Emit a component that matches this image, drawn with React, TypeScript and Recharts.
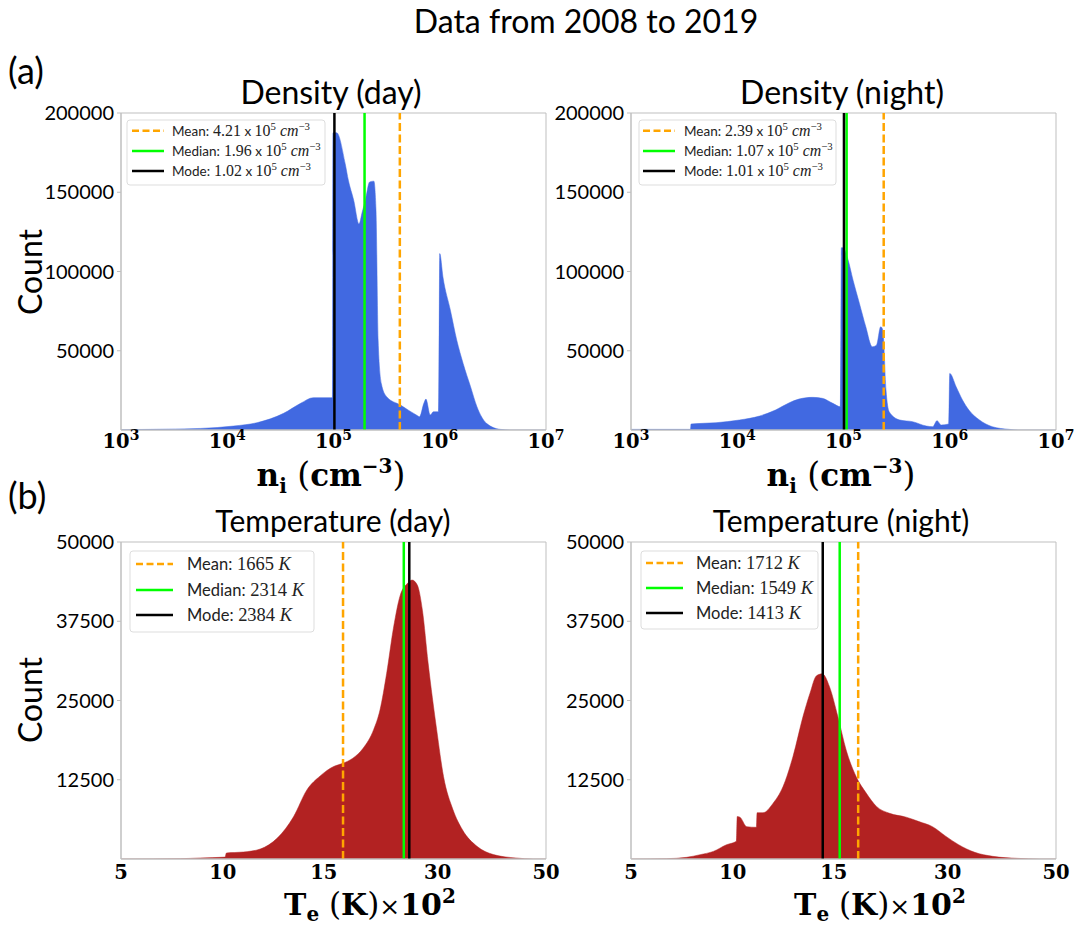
import React from "react";
import { ComposedChart, Area, XAxis, YAxis, ReferenceLine, ReferenceArea } from "recharts";

// ---------- DATA ----------
const densityDayN = [1000, 1905, 5623, 11482, 19055, 33884, 48978, 64565, 93325, 97700, 98855, 107152, 128825, 138038, 154882, 173780, 186209, 199526, 218776, 239883, 251189, 263027, 281838, 316228, 426580, 602560, 645654, 707946, 741310, 812831, 870964, 977237, 1000000, 1071519, 1258925, 1445440, 1659587, 1949845, 2238721, 2754229, 3715352, 4677351, 10000000];
const densityDayCount = [200, 400, 1000, 2500, 4600, 10500, 16800, 20400, 20400, 20400, 187500, 187500, 168000, 157500, 145000, 130000, 137500, 145000, 156500, 157000, 138600, 56700, 29400, 21000, 15750, 9450, 8400, 16800, 19500, 9450, 11500, 11500, 111300, 96600, 75600, 56700, 42000, 27300, 14700, 4200, 400, 0, 0];

const densityNightN = [1000, 3631, 3673, 6310, 10471, 16218, 22909, 30903, 38019, 51286, 63096, 79433, 93325, 94406, 95499, 98855, 109648, 123027, 141254, 162181, 186209, 204174, 223872, 234423, 251189, 269153, 338844, 446684, 602560, 691831, 758578, 831764, 977237, 1000000, 1148154, 1318257, 1513561, 1905461, 2511886, 3630781, 4466836, 10000000];
const densityNightCount = [400, 400, 3800, 4600, 6300, 8800, 12600, 17200, 19500, 20600, 20000, 16800, 14700, 63400, 115000, 115000, 108000, 94500, 79800, 65100, 52500, 53500, 65100, 63000, 25200, 11500, 6300, 5250, 2500, 2100, 5900, 3150, 3800, 35700, 27300, 18900, 12600, 6300, 2100, 400, 0, 0];

const tempDayT = [500, 689, 768, 879, 885, 970, 1063, 1166, 1274, 1369, 1471, 1583, 1665, 1756, 1858, 1965, 2034, 2109, 2190, 2270, 2355, 2420, 2490, 2560, 2640, 2765, 2870, 3020, 3180, 3440, 3760, 4250, 4670, 5000];
const tempDayCount = [0, 50, 160, 300, 950, 1100, 1570, 3300, 6700, 10900, 13100, 14600, 15100, 15900, 17500, 20400, 23500, 29300, 36600, 41600, 43400, 44000, 43200, 39200, 30900, 20400, 13000, 7800, 4600, 2000, 700, 160, 0, 0];

const tempNightT = [500, 606, 675, 727, 781, 839, 885, 889, 902, 936, 986, 990, 1022, 1080, 1139, 1203, 1270, 1318, 1366, 1410, 1465, 1533, 1604, 1693, 1788, 1890, 2030, 2220, 2380, 2560, 2750, 2950, 3220, 3550, 4060, 4570, 5000];
const tempNightCount = [0, 50, 260, 680, 1200, 2250, 2800, 6700, 6600, 5100, 5000, 7300, 7300, 8800, 11400, 16200, 22500, 26100, 28900, 29200, 27200, 22500, 17200, 13000, 10400, 8300, 7200, 6600, 5900, 5100, 3600, 2250, 1050, 420, 100, 0, 0];

// statistics: [mean, median, mode]
const statNames = ["Mean", "Median", "Mode"];
const densityDayStats = [4.21, 1.96, 1.02]; // x 10^5 cm^-3
const densityNightStats = [2.39, 1.07, 1.01];
const tempDayStats = [1665, 2314, 2384]; // K
const tempNightStats = [1712, 1549, 1413];

const densityTicks = [1e3, 1e4, 1e5, 1e6, 1e7];
const densityYTicks = [50000, 100000, 150000, 200000];
const tempTickValues = [500, 868, 1500, 2780, 5000];
const tempTickLabels = ["5", "10", "15", "30", "50"];
const tempYTicks = [12500, 25000, 37500, 50000];

// ---------- STYLE ----------
const BLUE = "#4169E1";
const RED = "#B22222";
const ORANGE = "#FFA500";
const GREEN = "#00FF00";
const BLACK = "#000000";
const SPINE = "#bfbfbf";
const SANS = "Lato, 'Open Sans', sans-serif";
const SERIF_B = "'DejaVu Serif', serif";
const SERIF = "'Liberation Serif', serif";
const statColors = [ORANGE, GREEN, BLACK];

const toRows = (xs: number[], ys: number[]) => xs.map((x, i) => ({ x, y: ys[i] }));

const DensityTick = (props: any) => {
  const { x, y, payload } = props;
  const exp = Math.round(Math.log10(payload.value));
  return (
    <text x={x} y={y + 18} textAnchor="middle" fontFamily={SERIF_B} fontWeight="bold" fontSize={19.5} fill="#000">
      10
      <tspan dy={-8} fontSize={14}>{exp}</tspan>
    </text>
  );
};

const TempTick = (props: any) => {
  const { x, y, payload } = props;
  const idx = tempTickValues.indexOf(payload.value);
  return (
    <text x={x} y={y + 20} textAnchor="middle" fontFamily={SERIF_B} fontWeight="bold" fontSize={19.5} fill="#000">
      {tempTickLabels[idx]}
    </text>
  );
};

function Panel(props: any) {
  const { left, top, rows, domain, ticks, tick, yDomain, yTicks, color, stats } = props;
  return (
    <div style={{ position: "absolute", left, top }}>
      <ComposedChart width={566} height={410} data={rows} margin={{ top: 53, right: 20, bottom: 0, left: 0 }}>
        <XAxis
          dataKey="x"
          type="number"
          scale="log"
          domain={domain}
          ticks={ticks}
          interval={0}
          allowDataOverflow
          tick={tick}
          tickLine={false}
          tickSize={0}
          tickMargin={0}
          height={40}
          axisLine={{ stroke: SPINE }}
        />
        <YAxis
          type="number"
          domain={yDomain}
          ticks={yTicks}
          interval={0}
          allowDataOverflow
          width={121}
          tick={{ fontFamily: SANS, fontSize: 20, fill: "#000" }}
          tickSize={4}
          tickMargin={3}
          tickLine={{ stroke: SPINE }}
          axisLine={{ stroke: SPINE }}
        />
        <Area dataKey="y" type="monotone" fill={color} stroke={color} strokeWidth={0.5} fillOpacity={1} isAnimationActive={false} />
        <ReferenceArea x1={domain[0]} x2={domain[1]} y1={yDomain[0]} y2={yDomain[1]} fill="none" stroke={SPINE} strokeWidth={1} fillOpacity={0} />
        <ReferenceLine x={stats[0]} stroke={ORANGE} strokeWidth={2.5} strokeDasharray="8 3.5" />
        <ReferenceLine x={stats[1]} stroke={GREEN} strokeWidth={2.5} />
        <ReferenceLine x={stats[2]} stroke={BLACK} strokeWidth={2.5} />
      </ComposedChart>
    </div>
  );
}

function LegendBox(props: any) {
  const { x, y, w, h, rowYs, lx1, lx2, tx, fs, kind, stats } = props;
  return (
    <g>
      <rect x={x} y={y} width={w} height={h} rx={3} fill="rgba(255,255,255,0.8)" stroke="#dddddd" strokeWidth={1} />
      {statNames.map((name, i) => (
        <g key={name}>
          <line x1={lx1} x2={lx2} y1={rowYs[i]} y2={rowYs[i]} stroke={statColors[i]} strokeWidth={2.5} strokeDasharray={i === 0 ? "7 3.5" : undefined} />
          {kind === "density" ? (
            <text x={tx} y={rowYs[i] + fs * 0.36} fontFamily={SANS} fontSize={fs} fill="#222">
              {name}:
              <tspan fontFamily={SERIF} fontSize={fs * 1.18}> {stats[i].toFixed(2)}</tspan>
              <tspan> x </tspan>
              <tspan fontFamily={SERIF} fontSize={fs * 1.18}>10</tspan>
              <tspan fontFamily={SERIF} fontSize={fs * 0.8} dy={-fs * 0.4}>5</tspan>
              <tspan fontFamily={SERIF} fontStyle="italic" fontSize={fs * 1.18} dy={fs * 0.4}> cm</tspan>
              <tspan fontFamily={SERIF} fontSize={fs * 0.8} dy={-fs * 0.4}>−3</tspan>
            </text>
          ) : (
            <text x={tx} y={rowYs[i] + fs * 0.36} fontFamily={SANS} fontSize={fs} fill="#222">
              {name}:
              <tspan fontFamily={SERIF} fontSize={fs * 1.12}> {stats[i]} </tspan>
              <tspan fontFamily={SERIF} fontStyle="italic" fontSize={fs * 1.12}>K</tspan>
            </text>
          )}
        </g>
      ))}
    </g>
  );
}

function DensityLabel({ cx }: { cx: number }) {
  return (
    <text x={cx} y={486} textAnchor="middle" fontFamily={SERIF_B} fontWeight="bold" fontSize={31} fill="#000">
      n<tspan fontSize={20} dy={7}>i</tspan>
      <tspan dy={-7} fontWeight="normal" fontSize={33}> (</tspan>
      <tspan>cm</tspan>
      <tspan fontSize={20} dy={-13}>−3</tspan>
      <tspan dy={13} fontWeight="normal" fontSize={33}>)</tspan>
    </text>
  );
}

function TempLabel({ cx }: { cx: number }) {
  return (
    <text x={cx} y={915} textAnchor="middle" fontFamily={SERIF_B} fontWeight="bold" fontSize={30} fill="#000">
      T<tspan fontSize={20} dy={6}>e</tspan>
      <tspan dy={-6} fontWeight="normal" fontSize={31}> (</tspan>
      <tspan>K</tspan>
      <tspan fontWeight="normal" fontSize={31}>)</tspan>
      <tspan fontWeight="normal" fontSize={25}>×</tspan>
      <tspan>10</tspan>
      <tspan fontSize={20} dy={-12}>2</tspan>
    </text>
  );
}

export default function App() {
  return (
    <div style={{ position: "absolute", left: 0, top: 0, width: 1077, height: 925, background: "#fff", overflow: "hidden" }}>
      <Panel left={0} top={60} rows={toRows(densityDayN, densityDayCount)} domain={[1e3, 1e7]} ticks={densityTicks} tick={(p: any) => <DensityTick {...p} />} yDomain={[0, 200000]} yTicks={densityYTicks} color={BLUE} stats={densityDayStats.map((v) => v * 1e5)} />
      <Panel left={510} top={60} rows={toRows(densityNightN, densityNightCount)} domain={[1e3, 1e7]} ticks={densityTicks} tick={(p: any) => <DensityTick {...p} />} yDomain={[0, 200000]} yTicks={densityYTicks} color={BLUE} stats={densityNightStats.map((v) => v * 1e5)} />
      <Panel left={0} top={489} rows={toRows(tempDayT, tempDayCount)} domain={[500, 5000]} ticks={tempTickValues} tick={(p: any) => <TempTick {...p} />} yDomain={[0, 50000]} yTicks={tempYTicks} color={RED} stats={tempDayStats} />
      <Panel left={510} top={489} rows={toRows(tempNightT, tempNightCount)} domain={[500, 5000]} ticks={tempTickValues} tick={(p: any) => <TempTick {...p} />} yDomain={[0, 50000]} yTicks={tempYTicks} color={RED} stats={tempNightStats} />

      <svg width={1077} height={925} style={{ position: "absolute", left: 0, top: 0, pointerEvents: "none" }}>
        <text x={586} y={33} textAnchor="middle" fontFamily={SANS} fontSize={32} fill="#000">Data from 2008 to 2019</text>
        <text x={8} y={84} fontFamily={SANS} fontSize={36} fill="#000">(a)</text>
        <text x={8} y={509} fontFamily={SANS} fontSize={36} fill="#000">(b)</text>
        <text x={331} y={104} textAnchor="middle" fontFamily={SANS} fontSize={32} fill="#000">Density (day)</text>
        <text x={842} y={104} textAnchor="middle" fontFamily={SANS} fontSize={32} fill="#000">Density (night)</text>
        <text x={333} y={532} textAnchor="middle" fontFamily={SANS} fontSize={30} fill="#000">Temperature (day)</text>
        <text x={841} y={532} textAnchor="middle" fontFamily={SANS} fontSize={30} fill="#000">Temperature (night)</text>
        <text x={42} y={272} textAnchor="middle" fontFamily={SANS} fontSize={32} fill="#000" transform="rotate(-90 42 272)">Count</text>
        <text x={42} y={700} textAnchor="middle" fontFamily={SANS} fontSize={32} fill="#000" transform="rotate(-90 42 700)">Count</text>

        <DensityLabel cx={331} />
        <DensityLabel cx={841} />
        <TempLabel cx={370} />
        <TempLabel cx={880} />

        <LegendBox x={127} y={120} w={198} h={65} rowYs={[130.7, 151, 171]} lx1={132} lx2={164} tx={172} fs={13.5} kind="density" stats={densityDayStats} />
        <LegendBox x={639} y={120} w={197} h={65} rowYs={[130.7, 151, 171]} lx1={643} lx2={675} tx={684} fs={13.5} kind="density" stats={densityNightStats} />
        <LegendBox x={130} y={551} w={184} h={81} rowYs={[564, 590, 615]} lx1={136} lx2={173} tx={187} fs={16.5} kind="temp" stats={tempDayStats} />
        <LegendBox x={641} y={551} w={177} h={78} rowYs={[563, 588, 613]} lx1={646} lx2={683} tx={696} fs={16.5} kind="temp" stats={tempNightStats} />
      </svg>
    </div>
  );
}
